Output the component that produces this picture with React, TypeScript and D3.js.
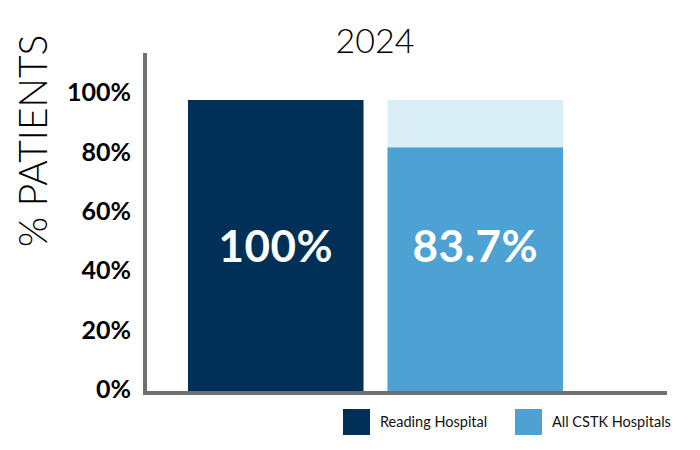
import React from "react";
import { select, scaleLinear, scaleBand, axisLeft } from "d3";

const hospitals = ["Reading Hospital", "All CSTK Hospitals"];
const values = [100, 83.7];
const valueLabels = ["100%", "83.7%"];
const yTicks = [0, 20, 40, 60, 80, 100];
const colors = ["#003057", "#4da1d3"];
const backColor = "#daeff5";
const title = "2024";

const W = 700;
const H = 450;

export default function App() {
  const svgRef = React.useRef<SVGSVGElement>(null);

  React.useEffect(() => {
    const svg = select(svgRef.current);
    svg.selectAll("*").remove();

    const x = scaleBand<string>()
      .domain(hospitals)
      .range([188, 563])
      .paddingInner(0.12)
      .paddingOuter(0);

    const y = scaleLinear().domain([0, 100]).range([391, 100]);

    // background (100%) behind bars under 100
    svg
      .append("g")
      .selectAll("rect")
      .data(hospitals.filter((d, i) => values[i] < 100))
      .join("rect")
      .attr("x", (d) => x(d)!)
      .attr("y", y(100))
      .attr("width", x.bandwidth())
      .attr("height", y(0) - y(100))
      .attr("fill", backColor);

    svg
      .append("g")
      .selectAll("rect")
      .data(hospitals)
      .join("rect")
      .attr("x", (d) => x(d)!)
      .attr("y", (d, i) => y(values[i]))
      .attr("width", x.bandwidth())
      .attr("height", (d, i) => y(0) - y(values[i]))
      .attr("fill", (d, i) => colors[i]);

    svg
      .append("g")
      .selectAll("text")
      .data(hospitals)
      .join("text")
      .attr("x", (d) => x(d)! + x.bandwidth() / 2)
      .attr("y", 262)
      .attr("text-anchor", "middle")
      .attr("fill", "#fff")
      .style("font-family", "Lato, sans-serif")
      .style("font-weight", 700)
      .style("font-size", "44px")
      .style("letter-spacing", "0.5px")
      .text((d, i) => valueLabels[i]);

    // y axis
    const yAxis = svg
      .append("g")
      .call(
        axisLeft(y)
          .tickValues(yTicks)
          .tickSize(0)
          .tickFormat((d) => `${d}%`)
      );
    yAxis.select(".domain").remove();
    yAxis
      .selectAll("text")
      .attr("x", 131)
      .attr("dy", "0.35em")
      .attr("transform", (d: any) => `translate(0,${-2 - (+d / 100) * 6})`)
      .attr("fill", "#000")
      .style("font-family", "Lato, sans-serif")
      .style("font-weight", 700)
      .style("font-size", "25px");

    // axis lines
    svg
      .append("line")
      .attr("x1", 145)
      .attr("x2", 145)
      .attr("y1", 53)
      .attr("y2", 395)
      .attr("stroke", "#707070")
      .attr("stroke-width", 4);
    svg
      .append("line")
      .attr("x1", 143)
      .attr("x2", 667)
      .attr("y1", 393)
      .attr("y2", 393)
      .attr("stroke", "#707070")
      .attr("stroke-width", 4);

    svg
      .append("text")
      .attr("x", 375)
      .attr("y", 53)
      .attr("text-anchor", "middle")
      .style("font-family", "Lato, sans-serif")
      .style("font-weight", 300)
      .style("font-size", "34px")
      .text(title);

    svg
      .append("text")
      .attr("transform", "translate(47,141) rotate(-90)")
      .attr("text-anchor", "middle")
      .style("font-family", "Lato, sans-serif")
      .style("font-weight", 300)
      .style("font-size", "39px")
      .text("% PATIENTS");

    // legend
    const legendX = [343, 515];
    const legend = svg
      .append("g")
      .selectAll("g")
      .data(hospitals)
      .join("g")
      .attr("transform", (d, i) => `translate(${legendX[i]},409)`);
    legend
      .append("rect")
      .attr("width", 27)
      .attr("height", 26)
      .attr("fill", (d, i) => colors[i]);
    legend
      .append("text")
      .attr("x", 37)
      .attr("y", 18)
      .style("font-family", "Lato, sans-serif")
      .style("font-weight", 400)
      .style("font-size", "14.5px")
      .attr("fill", "#111")
      .text((d) => d);

    return () => {
      svg.selectAll("*").remove();
    };
  }, []);

  return (
    <svg
      ref={svgRef}
      width={W}
      height={H}
      style={{ position: "absolute", left: 0, top: 0, background: "#fff" }}
    />
  );
}
